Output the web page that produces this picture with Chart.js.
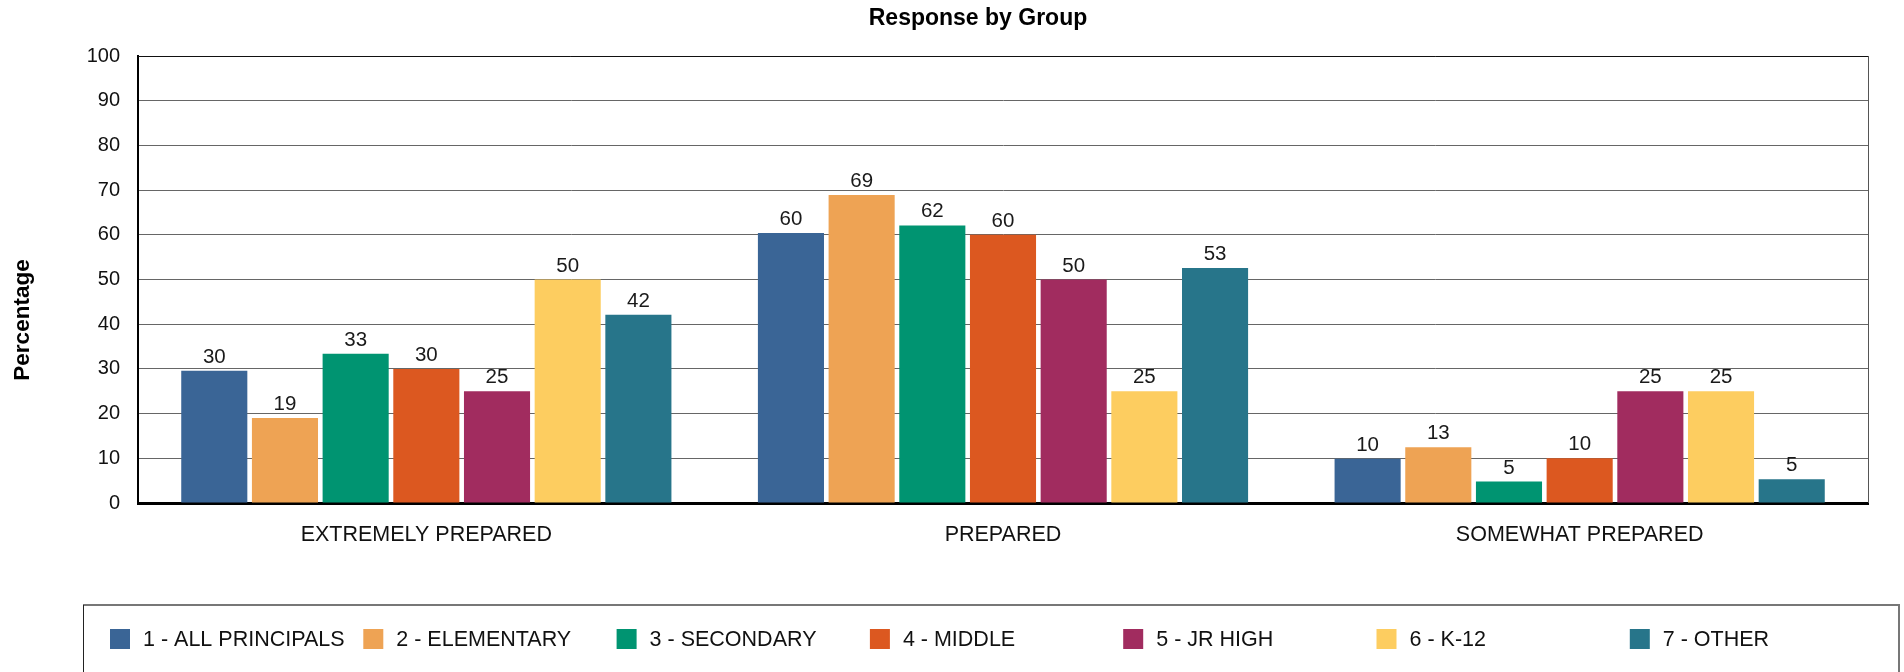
<!DOCTYPE html>
<html>
<head>
<meta charset="utf-8">
<script src="https://cdn.jsdelivr.net/npm/chart.js@4/dist/chart.umd.min.js"></script>
<style>
  html, body { margin: 0; padding: 0; background: #fff; }
  #wrap { width: 1904px; height: 672px; position: relative; }
</style>
</head>
<body>
<div id="wrap"><canvas id="c" width="1904" height="672"></canvas></div>
<script>
// ---- Data ----
const chartTitle = 'Response by Group';
const yAxisTitle = 'Percentage';
const categories = ['EXTREMELY PREPARED', 'PREPARED', 'SOMEWHAT PREPARED'];
const seriesNames = ['1 - ALL PRINCIPALS', '2 - ELEMENTARY', '3 - SECONDARY', '4 - MIDDLE', '5 - JR HIGH', '6 - K-12', '7 - OTHER'];
const allPrincipals = [29.6, 60.4, 9.9];
const elementary    = [19.0, 68.9, 12.5];
const secondary     = [33.4, 62.1, 4.8];
const middle        = [30.0, 60.0, 10.0];
const jrHigh        = [25.0, 50.0, 25.0];
const k12           = [50.0, 25.0, 25.0];
const other         = [42.1, 52.6, 5.3];
const seriesValues = [allPrincipals, elementary, secondary, middle, jrHigh, k12, other];
const seriesColors = ['#3A6596', '#EEA354', '#009471', '#DC5820', '#A12C5F', '#FDCD60', '#27758A'];
const yMin = 0, yMax = 100, yStep = 10;

const FONT = '"Liberation Sans", Arial, sans-serif';

const datasets = seriesNames.map((name, i) => ({
  label: name,
  data: seriesValues[i],
  backgroundColor: seriesColors[i],
  borderWidth: 0,
  barPercentage: 0.935,
  categoryPercentage: 0.858
}));

const decorPlugin = {
  id: 'decor',
  afterDatasetsDraw(chart) {
    const ctx = chart.ctx;
    ctx.save();
    // data labels
    ctx.font = '20.5px ' + FONT;
    ctx.fillStyle = '#1a1a1a';
    ctx.textAlign = 'center';
    ctx.textBaseline = 'alphabetic';
    chart.data.datasets.forEach((ds, di) => {
      const meta = chart.getDatasetMeta(di);
      meta.data.forEach((bar, j) => {
        ctx.fillText(String(Math.round(ds.data[j])), bar.x, bar.y - 8);
      });
    });
    ctx.restore();
  },
  afterDraw(chart) {
    const ctx = chart.ctx;
    const ca = chart.chartArea;
    ctx.save();
    // right border
    ctx.strokeStyle = '#555';
    ctx.lineWidth = 1;
    ctx.beginPath();
    ctx.moveTo(ca.right + 0.5, ca.top);
    ctx.lineTo(ca.right + 0.5, ca.bottom);
    ctx.stroke();
    // top border
    ctx.strokeStyle = '#111';
    ctx.beginPath();
    ctx.moveTo(ca.left, ca.top + 0.5);
    ctx.lineTo(ca.right, ca.top + 0.5);
    ctx.stroke();

    // title
    ctx.font = 'bold 23px ' + FONT;
    ctx.fillStyle = '#000';
    ctx.textAlign = 'center';
    ctx.textBaseline = 'middle';
    ctx.fillText(chartTitle, 978, 19);

    // y-axis title
    ctx.save();
    ctx.translate(23, 320);
    ctx.rotate(-Math.PI / 2);
    ctx.font = 'bold 22.5px ' + FONT;
    ctx.fillText(yAxisTitle, 0, 0);
    ctx.restore();

    // legend box
    const boxL = 83, boxT = 605, boxR = 1899, boxB = 700;
    ctx.strokeStyle = '#777';
    ctx.lineWidth = 2;
    ctx.beginPath();
    ctx.moveTo(boxL, boxT);
    ctx.lineTo(boxR, boxT);
    ctx.lineTo(boxR, boxB);
    ctx.stroke();
    ctx.strokeStyle = '#222';
    ctx.lineWidth = 1;
    ctx.beginPath();
    ctx.moveTo(boxL + 0.5, boxT);
    ctx.lineTo(boxL + 0.5, boxB);
    ctx.stroke();

    // legend items
    const colStart = 110, colStep = 253.3, sq = 20, cy = 639;
    ctx.font = '21.5px ' + FONT;
    ctx.textAlign = 'left';
    ctx.textBaseline = 'middle';
    chart.data.datasets.forEach((ds, i) => {
      const x = colStart + colStep * i;
      ctx.fillStyle = ds.backgroundColor;
      ctx.fillRect(x, cy - sq / 2, sq, sq);
      ctx.fillStyle = '#111';
      ctx.fillText(ds.label, x + 33, cy + 1);
    });
    ctx.restore();
  }
};

new Chart(document.getElementById('c'), {
  type: 'bar',
  data: { labels: categories, datasets },
  options: {
    responsive: false,
    animation: false,
    events: [],
    layout: { padding: { left: 0, right: 36, top: 56, bottom: 100 } },
    plugins: {
      legend: { display: false },
      title: { display: false },
      tooltip: { enabled: false }
    },
    scales: {
      x: {
        grid: { display: false, drawTicks: false },
        border: { display: true, color: '#000', width: 3 },
        ticks: { color: '#111', font: { family: FONT, size: 21.5 }, padding: 19, maxRotation: 0 },
        afterFit(scale) { scale.height = 69; }
      },
      y: {
        min: yMin, max: yMax,
        ticks: { stepSize: yStep, color: '#111', font: { family: FONT, size: 20 }, padding: 18 },
        grid: { color: '#666', lineWidth: 1, drawTicks: false },
        border: { display: true, color: '#000', width: 2 },
        afterFit(scale) { scale.width = 138; }
      }
    }
  },
  plugins: [decorPlugin]
});
</script>
</body>
</html>
